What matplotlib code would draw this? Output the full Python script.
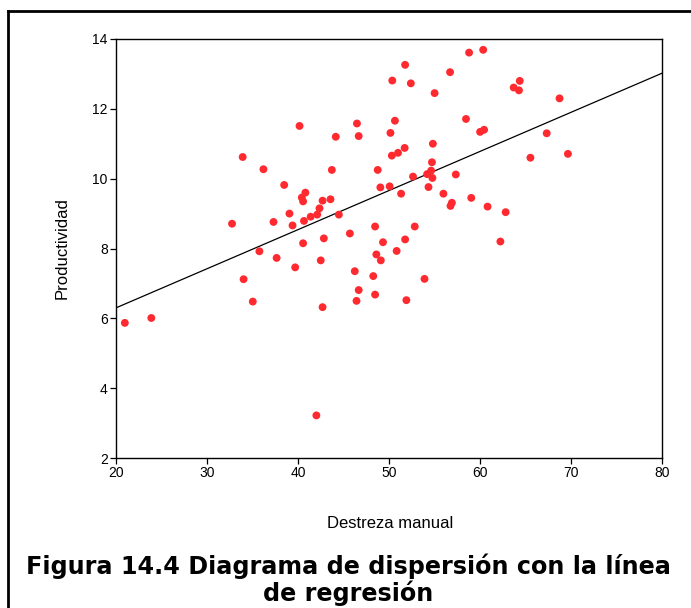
import matplotlib
matplotlib.use("Agg")
import matplotlib.pyplot as plt
from matplotlib.lines import Line2D

# Destreza manual (x) y Productividad (y) de cada trabajador
destreza = [
    20.97, 23.88, 32.75, 33.92, 34.02, 35.03, 35.76, 36.20, 37.31, 37.65,
    38.48, 39.06, 39.40, 39.69, 40.17, 40.42, 40.56, 40.81, 40.66, 40.56,
    41.39, 42.02, 42.11, 42.36, 42.50, 42.70, 42.70, 42.84, 43.57, 43.72,
    44.15, 44.49, 45.70, 46.24, 46.43, 46.48, 46.67, 46.67, 48.27, 48.47,
    48.47, 48.61, 48.76, 49.05, 49.10, 49.34, 50.07, 50.16, 50.31, 50.36,
    50.65, 50.84, 50.99, 51.33, 51.72, 51.77, 51.77, 51.91, 52.40, 52.64,
    52.83, 53.90, 54.19, 54.34, 54.63, 54.72, 54.77, 54.82, 55.01, 55.98,
    56.71, 56.76, 56.91, 57.34, 58.46, 58.80, 59.04, 60.01, 60.35, 60.45,
    60.83, 62.24, 62.82, 63.70, 64.28, 64.37, 65.54, 67.33, 68.74, 69.66,
]
productividad = [
    5.87, 6.01, 8.71, 10.62, 7.12, 6.48, 7.92, 10.27, 8.76, 7.73,
    9.82, 9.00, 8.66, 7.46, 11.51, 9.46, 9.35, 9.60, 8.79, 8.15,
    8.91, 3.22, 8.97, 9.15, 7.66, 9.37, 6.32, 8.29, 9.41, 10.25,
    11.20, 8.97, 8.43, 7.35, 6.50, 11.58, 11.22, 6.81, 7.21, 8.63,
    6.68, 7.83, 10.25, 9.75, 7.66, 8.18, 9.78, 11.31, 10.66, 12.81,
    11.66, 7.93, 10.74, 9.57, 10.88, 13.26, 8.26, 6.52, 12.73, 10.06,
    8.63, 7.13, 10.13, 9.76, 10.23, 10.47, 10.02, 11.00, 12.45, 9.57,
    13.05, 9.22, 9.31, 10.12, 11.71, 13.61, 9.45, 11.34, 13.69, 11.40,
    9.20, 8.20, 9.04, 12.61, 12.53, 12.80, 10.60, 11.30, 12.30, 10.71,
]

# Recta de regresión: Productividad = intercepto + pendiente * Destreza
intercepto = 4.06
pendiente = 0.112

x_ticks = [20, 30, 40, 50, 60, 70, 80]
y_ticks = [2, 4, 6, 8, 10, 12, 14]

fig = plt.figure(figsize=(6.91, 6.08), dpi=100)
ax = fig.add_axes([116 / 691, 1 - 458 / 608, (662 - 116) / 691, (458 - 39) / 608])

ax.scatter(destreza, productividad, s=32, color="#ff2a30", edgecolors="none",
           zorder=3)

x_line = [x_ticks[0], x_ticks[-1]]
ax.plot(x_line, [intercepto + pendiente * v for v in x_line],
        color="black", lw=0.9, zorder=2)

ax.set_xlim(x_ticks[0], x_ticks[-1])
ax.set_ylim(y_ticks[0], y_ticks[-1])
ax.set_xticks(x_ticks)
ax.set_yticks(y_ticks)
ax.tick_params(direction="out", length=4, width=0.9, labelsize=10,
               pad=2, colors="black")
for lab in ax.get_xticklabels() + ax.get_yticklabels():
    lab.set_family("Liberation Sans")
for sp in ax.spines.values():
    sp.set_linewidth(1.0)
    sp.set_color("black")

ax.set_ylabel("Productividad", family="Liberation Sans", fontsize=12,
              labelpad=16)
fig.text(390 / 691, 1 - 523 / 608, "Destreza manual", family="Liberation Sans",
         fontsize=12, ha="center", va="center")

fig.text(348 / 691, 1 - 580 / 608,
         "Figura 14.4 Diagrama de dispersión con la línea\nde regresión",
         family="DejaVu Sans", weight="bold", fontsize=17.2, ha="center",
         va="center", linespacing=1.05)

# Marco exterior de la figura (bordes izquierdo y superior)
fig.add_artist(Line2D([8 / 691, 8 / 691], [0, 1 - 11 / 608],
                      transform=fig.transFigure, color="black", lw=2))
fig.add_artist(Line2D([8 / 691, 1], [1 - 11 / 608, 1 - 11 / 608],
                      transform=fig.transFigure, color="black", lw=2))

fig.savefig("out.png", dpi=100)
